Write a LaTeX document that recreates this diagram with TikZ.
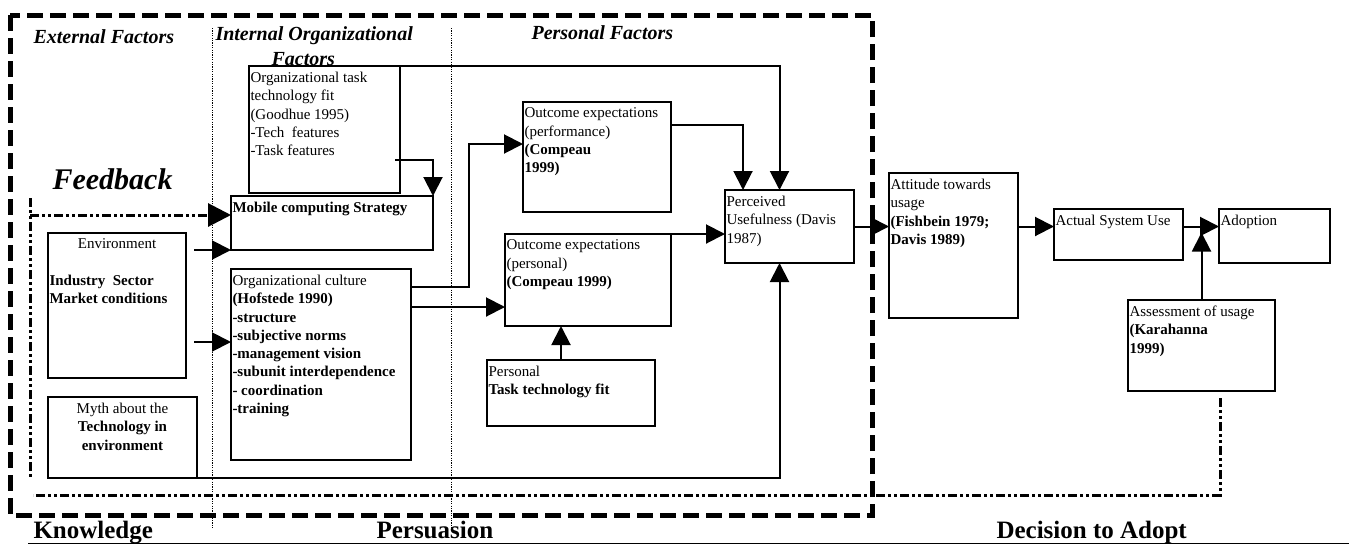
\documentclass[tikz,border=0pt]{standalone}
\usepackage{fontspec}
\setmainfont{Liberation Serif}
\usepackage{tikz}
\usetikzlibrary{arrows.meta}
\newcommand{\blocktext}[3]{\parbox[t][\dimexpr#2pt-12pt\relax][t]{\dimexpr#1pt-3pt\relax}{\raggedright#3}}

\begin{document}
\begin{tikzpicture}[x=1pt, y=-1pt,
  blk/.style={draw, line width=2.2pt, outer sep=0pt, anchor=north west, inner xsep=1.5pt, inner ysep=6pt, font=\fontsize{15}{18.3}\selectfont},
  arr/.style={line width=2pt, -{Triangle[length=19pt,width=19pt]}},
  fb/.style={line width=3pt, dash pattern=on 9pt off 3pt on 3pt off 3pt on 3pt off 3pt},
  sep/.style={line width=1pt, dash pattern=on 1.2pt off 1.2pt},
  head/.style={anchor=base west, font=\fontsize{20}{22}\selectfont\bfseries\itshape},
  stage/.style={anchor=base west, font=\fontsize{25}{28}\selectfont\bfseries}]
\useasboundingbox (0,0) rectangle (1349,544);

\draw[line width=5pt, dash pattern=on 16pt off 7pt] (10,15) rectangle (872,515);
\draw[sep] (212,28) -- (212,528);
\draw[sep] (451,28) -- (451,528);

\node[head] (ext) at (30,43) {External Factors};
\node[head] (intl) at (212,40) {Internal Organizational};
\node[head] (intl2) at (268,65) {Factors};
\node[head] (pers) at (528,39) {Personal Factors};
\node[head, font=\fontsize{30}{33}\selectfont\bfseries\itshape] (feedback) at (49,189) {Feedback};

\node[blk] (ottf) at (249,66) {\blocktext{151}{127}{Organizational task\\technology fit\\(Goodhue 1995)\\-Tech\ \ features\\-Task features}};
\node[blk] (mobile) at (231,196) {\blocktext{202}{54}{\textbf{Mobile computing Strategy}}};
\node[blk] (env) at (48,233) {\blocktext{138}{145}{\centerline{Environment}\vspace{18.3pt}\textbf{Industry\ \ Sector}\\\textbf{Market conditions}}};
\node[blk] (myth) at (48,397) {\blocktext{149}{81}{\centering Myth about the\\\textbf{Technology in}\\\textbf{environment}}};
\node[blk] (culture) at (231,269) {\blocktext{180}{191}{Organizational culture\\\textbf{(Hofstede 1990)}\\\textbf{-structure}\\\textbf{-subjective norms}\\\textbf{-management vision}\\\textbf{-subunit interdependence}\\\textbf{- coordination}\\\textbf{-training}}};
\node[blk] (operf) at (523,102) {\blocktext{148}{110}{Outcome expectations\\(performance)\\\textbf{(Compeau}\\\textbf{1999)}}};
\node[blk] (opers) at (505,234) {\blocktext{166}{92}{Outcome expectations\\(personal)\\\textbf{(Compeau 1999)}}};
\node[blk] (pttf) at (487,360) {\blocktext{168}{66}{Personal\\\textbf{Task technology fit}}};
\node[blk] (pu) at (725,190) {\blocktext{129}{73}{Perceived\\Usefulness (Davis\\1987)}};
\node[blk] (att) at (889,173) {\blocktext{129}{145}{Attitude towards\\usage\\\textbf{(Fishbein 1979;}\\\textbf{Davis 1989)}}};
\node[blk] (actual) at (1054,209) {\blocktext{129}{51}{Actual System Use}};
\node[blk] (adopt) at (1219,209) {\blocktext{111}{54}{Adoption}};
\node[blk] (asmt) at (1128,300) {\blocktext{147}{91}{Assessment of usage\\\textbf{(Karahanna}\\\textbf{1999)}}};

\draw[arr] (ottf.north east) -| ([xshift=-10pt]pu.north);
\draw[arr] ([shift={(-5,30.5)}]ottf.east) -| (mobile.north east);
\draw[arr] ([shift={(8,17)}]env.north east) -- (mobile.south west);
\draw[arr] ([shift={(8,36.5)}]env.east) -- ([yshift=22.5pt]culture.west);
\draw[arr] ([yshift=-18pt]culture.north east) -- ++(58,0) |- ([yshift=13pt]operf.west);
\draw[arr] ([yshift=-38pt]culture.north east) -- ([yshift=-27pt]opers.west);
\draw[arr] ([yshift=-23pt]operf.north east) -| ([xshift=18pt]pu.north west);
\draw[arr] (opers.north east) -- (opers.north east -| pu.west);
\coordinate (ptop) at ([xshift=-10pt]pttf.north);
\draw[arr] (ptop) -- (ptop |- opers.south);
\draw[arr] (myth.south east) -| ([xshift=-10pt]pu.south);
\draw[arr] (pu.east) -- (pu.east -| att.west);
\draw[arr] (att.east |- pu.east) -- (actual.west |- pu.east);
\draw[arr] (actual.east |- pu.east) -- (adopt.west |- pu.east);
\draw[arr] (asmt.north) -- ([yshift=-6pt]asmt.north |- pu.east);

\coordinate (fbstart) at (1220,398);
\draw[fb] (fbstart) |- (33,495);
\draw[fb] (30,198) -- (30,478);
\draw[fb, -{Triangle[length=23pt,width=23pt]}] (30,215) -- ([yshift=8pt]mobile.west);

\node[stage] (know) at (30,538) {Knowledge};
\node[stage] (persuade) at (373,538) {Persuasion};
\node[stage] (decide) at (993,538) {Decision to Adopt};
\draw[line width=1pt] (28,543) -- (1349,543);
\end{tikzpicture}
\end{document}
